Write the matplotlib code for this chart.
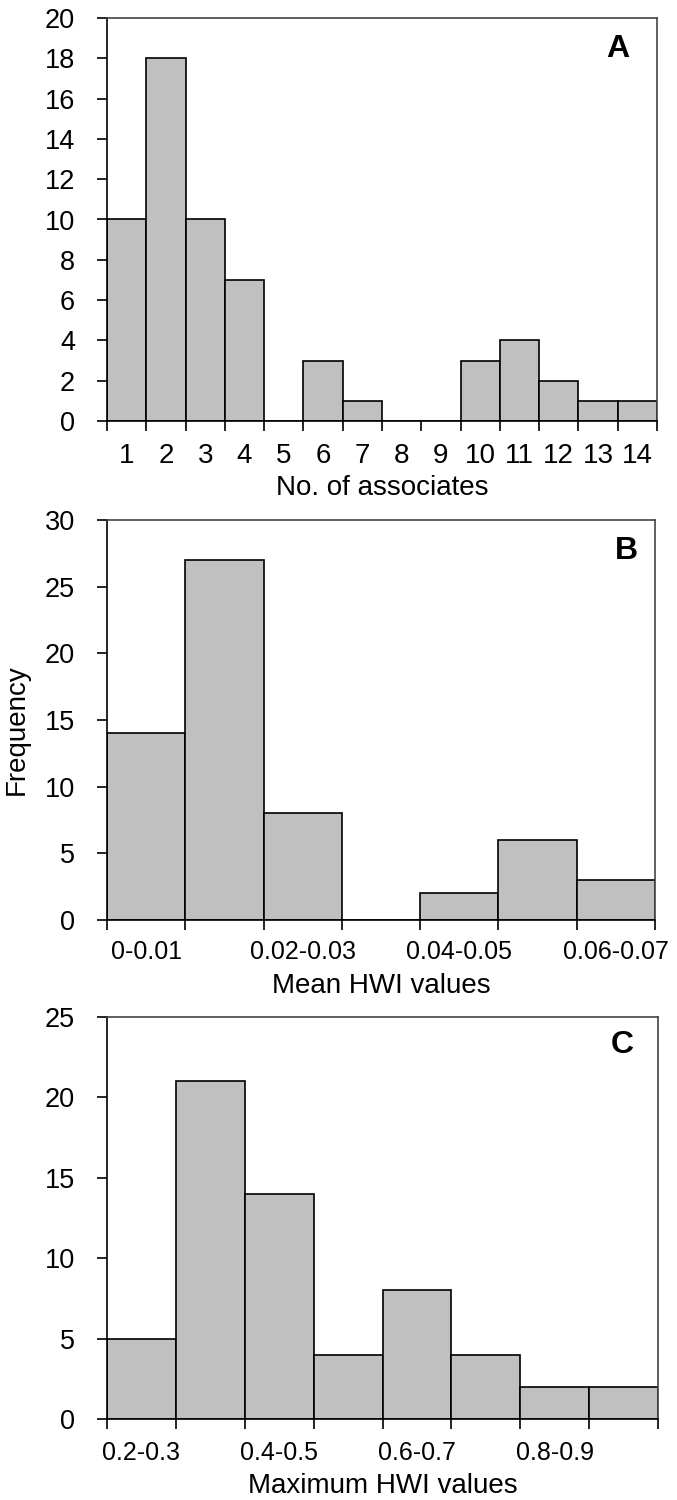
import matplotlib
matplotlib.use("Agg")
import matplotlib.pyplot as plt
import numpy as np

plt.rcParams['font.family'] = ['Liberation Sans', 'DejaVu Sans']

# panel A: number of associates
assoc_labels = [str(i) for i in range(1, 15)]
assoc_freq = [10, 18, 10, 7, 0, 3, 1, 0, 0, 3, 4, 2, 1, 1]

# panel B: mean HWI
mean_labels = ["0-0.01", "0.01-0.02", "0.02-0.03", "0.03-0.04", "0.04-0.05", "0.05-0.06", "0.06-0.07"]
mean_freq = [14, 27, 8, 0, 2, 6, 3]

# panel C: maximum HWI
max_labels = ["0.2-0.3", "0.3-0.4", "0.4-0.5", "0.5-0.6", "0.6-0.7", "0.7-0.8", "0.8-0.9", "0.9-1.0"]
max_freq = [5, 21, 14, 4, 8, 4, 2, 2]

W, H = 677, 1500
fig = plt.figure(figsize=(W / 100, H / 100), dpi=100)

def make_ax(l, t, r, b):
    return fig.add_axes([l / W, 1 - b / H, (r - l) / W, (b - t) / H])

axA = make_ax(107, 18, 657, 421)
axB = make_ax(107, 520, 655, 920)
axC = make_ax(107, 1017, 658, 1419)

TICK_FS = 18
YTICK_FS = 19.5
LABEL_FS = 20

def draw(ax, labels, freq, ymax, ystep, label_every, xlabel, letter,
         letter_xy, xlab_base, pad, xfamily=None, xfs=TICK_FS):
    n = len(freq)
    x = np.arange(n)
    ax.bar(x + 0.5, freq, width=1.0, color="#c0c0c0", edgecolor="black", linewidth=1.2)
    ax.set_xlim(0, n)
    ax.set_ylim(0, ymax)
    ax.set_yticks(np.arange(0, ymax + 1, ystep))
    ax.set_xticks(np.arange(n + 1))
    ax.set_xticklabels([])
    ax.set_xticks(x[::label_every] + 0.5, minor=True)
    lbls = ax.set_xticklabels(labels[::label_every], minor=True)
    if xfamily:
        for t in lbls:
            t.set_family(xfamily)
    ax.tick_params(axis="x", which="minor", length=0, labelsize=xfs, pad=pad)
    ax.tick_params(axis="x", which="major", length=7, width=1.2, direction="out")
    ax.tick_params(axis="y", length=7, width=1.2, direction="out", labelsize=YTICK_FS, pad=16)
    ax.set_xlabel(xlabel, fontsize=LABEL_FS, va="baseline")
    # xlabel baseline given in figure pixels
    l, b, w, h = ax.get_position().bounds
    ax.xaxis.set_label_coords(0.5, ((1 - xlab_base / H) - b) / h)
    for name, s in ax.spines.items():
        s.set_linewidth(1.2)
        s.set_color("black" if name in ("left", "bottom") else "#444444")
    ax.text(letter_xy[0], letter_xy[1], letter, transform=ax.transAxes, fontsize=23,
            fontweight="bold", ha="center", va="center")

draw(axA, assoc_labels, assoc_freq, 20, 2, 1, "No. of associates", "A",
     (0.929, 0.923), 495, 16,
     xfamily=["Liberation Sans Narrow", "Liberation Sans"], xfs=20)
draw(axB, mean_labels, mean_freq, 30, 5, 2, "Mean HWI values", "B",
     (0.947, 0.9225), 993, 14.5)
draw(axC, max_labels, max_freq, 25, 5, 2, "Maximum HWI values", "C",
     (0.936, 0.930), 1493, 16)

axB.set_ylabel("Frequency", fontsize=LABEL_FS)
axB.yaxis.set_label_coords((17 - 107) / 548, (920 - 730) / 400)
axB.yaxis.label.set_va("center")

fig.savefig("out.png", dpi=100)
